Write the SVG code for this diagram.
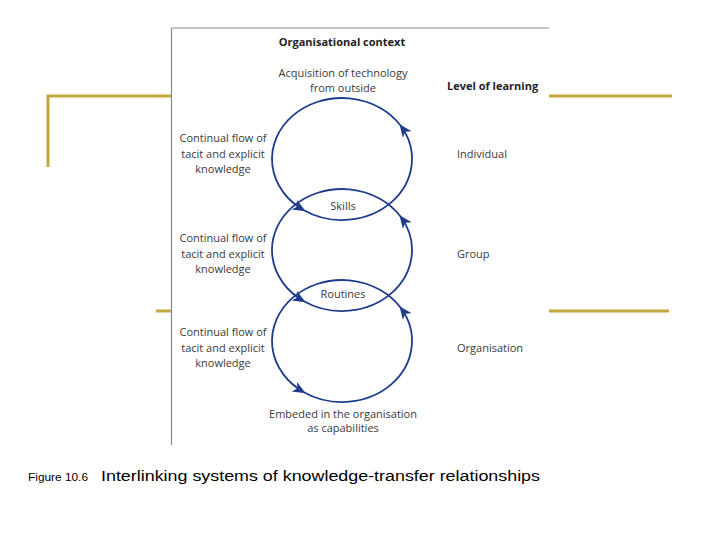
<svg xmlns="http://www.w3.org/2000/svg" width="720" height="540" viewBox="0 0 720 540">
<style>
.gold{stroke:#C2A83E;stroke-width:3;fill:none}
.frame{stroke:#8a8a8a;stroke-width:1.2;fill:none}
.loop{stroke:#1E3C8C;stroke-width:1.8;fill:none}
.t{font-family:"Open Sans","Noto Sans",sans-serif;font-size:11px;fill:#3a3a3a}
.c{text-anchor:middle}
.b{font-weight:bold;fill:#222}
</style>
<defs>
<marker id="ah" markerUnits="userSpaceOnUse" markerWidth="15" markerHeight="13" refX="11" refY="5.5" orient="auto">
<path d="M0,0 L13,5.5 L0,11 L3.5,5.5 z" fill="#1E3C8C"/>
</marker>
</defs>
<rect width="720" height="540" fill="#fff"/>
<g id="decor">
<path class="gold" d="M48,167 V96 H171"/>
<path class="gold" d="M549,96 H672"/>
<path class="gold" d="M156,311 H171"/>
<path class="gold" d="M549,311 H669"/>
<path class="frame" d="M171.5,445 V28 H549"/>
</g>
<g id="connectors">
<path class="loop" marker-end="url(#ah)" d="M400.7,125.8 A70,61 0 1 0 303.9,210.2"/>
<path class="loop" marker-end="url(#ah)" d="M303.9,210.2 A70,61 0 0 0 400.7,125.8"/>
<path class="loop" marker-end="url(#ah)" d="M400.7,216.8 A70,61 0 1 0 303.9,301.2"/>
<path class="loop" marker-end="url(#ah)" d="M303.9,301.2 A70,61 0 0 0 400.7,216.8"/>
<path class="loop" marker-end="url(#ah)" d="M400.7,307.8 A70,61 0 1 0 303.9,392.2"/>
<path class="loop" marker-end="url(#ah)" d="M303.9,392.2 A70,61 0 0 0 400.7,307.8"/>
</g>
<g id="title"><text class="t c b" x="342" y="46">Organisational context</text></g>
<g id="acquisition"><text class="t c" x="343" y="77">Acquisition of technology</text><text class="t c" x="343" y="92">from outside</text></g>
<g id="level"><text class="t b" x="447" y="90">Level of learning</text></g>
<g id="individual"><text class="t" x="457" y="158">Individual</text></g>
<g id="group"><text class="t" x="457" y="258">Group</text></g>
<g id="organisation"><text class="t" x="457" y="352">Organisation</text></g>
<g id="flow1"><text class="t c" x="223" y="142">Continual flow of</text><text class="t c" x="223" y="158">tacit and explicit</text><text class="t c" x="223" y="173">knowledge</text></g>
<g id="flow2"><text class="t c" x="223" y="242">Continual flow of</text><text class="t c" x="223" y="258">tacit and explicit</text><text class="t c" x="223" y="273">knowledge</text></g>
<g id="flow3"><text class="t c" x="223" y="336">Continual flow of</text><text class="t c" x="223" y="352">tacit and explicit</text><text class="t c" x="223" y="367">knowledge</text></g>
<g id="skills"><text class="t c" x="343" y="210">Skills</text></g>
<g id="routines"><text class="t c" x="343" y="298">Routines</text></g>
<g id="embeded"><text class="t c" x="343" y="418">Embeded in the organisation</text><text class="t c" x="343" y="432">as capabilities</text></g>
<g id="caption">
<text x="28" y="481" font-family="Liberation Sans, Arial, sans-serif" font-size="10" textLength="60" lengthAdjust="spacingAndGlyphs" fill="#000">Figure 10.6</text>
<text x="101" y="481" font-family="Liberation Sans, Arial, sans-serif" font-size="15.5" textLength="439" lengthAdjust="spacingAndGlyphs" fill="#000">Interlinking systems of knowledge-transfer relationships</text>
</g>
</svg>
